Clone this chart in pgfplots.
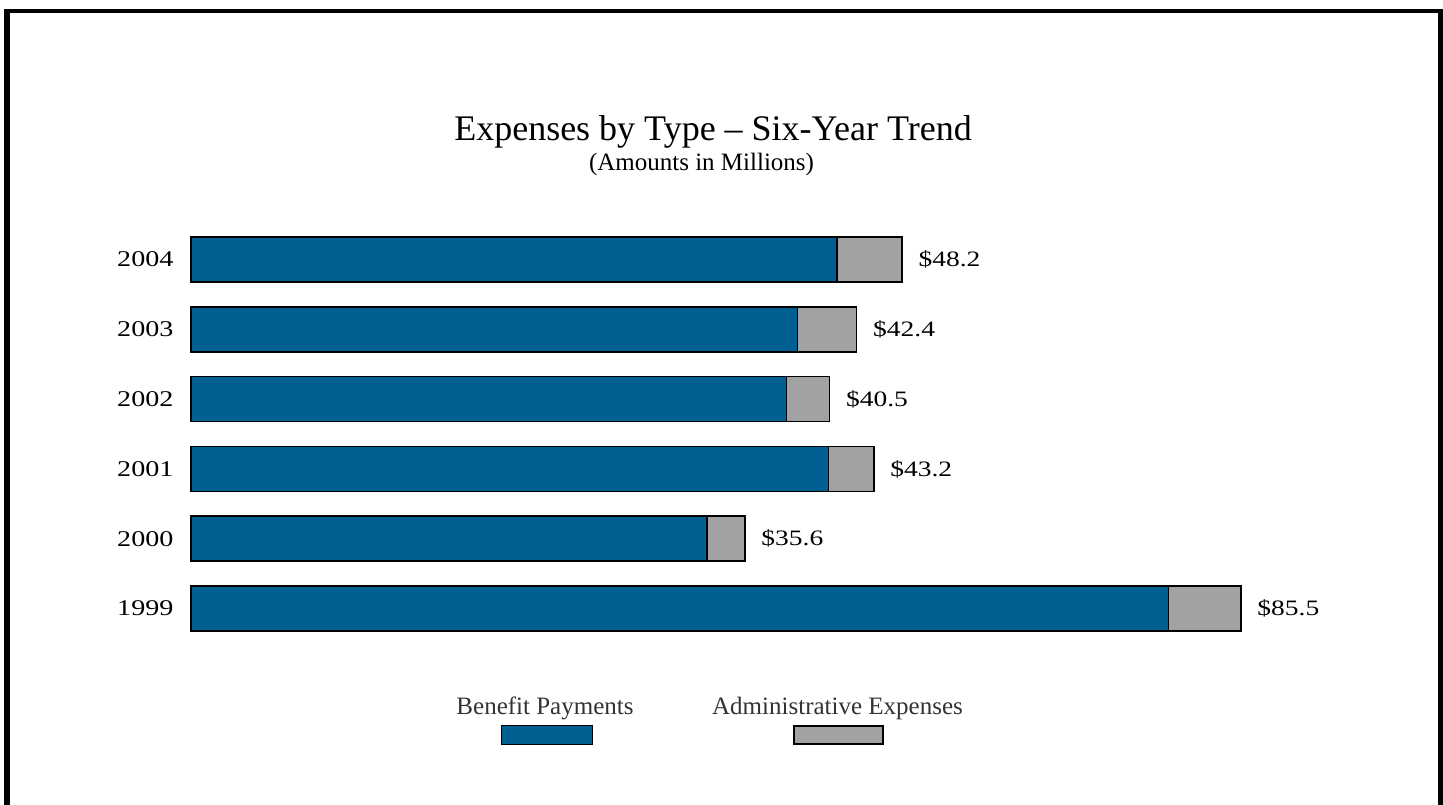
\documentclass[border=0pt]{standalone}
\usepackage{fontspec}
\setmainfont{Liberation Serif}
\newfontfamily\numfamily[FakeStretch=1.25]{Liberation Serif}
\usepackage{pgfplots}
\usepackage{pgfplotstable}
\pgfplotsset{compat=1.18}
\definecolor{benefit}{RGB}{0,96,146}
\definecolor{adminc}{RGB}{160,162,164}
\pgfplotstableread{
pos benefit admin label
0 79.6 5.9 85.5
1 42.0 3.1 35.6
2 51.9 3.7 43.2
3 48.5 3.5 40.5
4 49.4 4.8 42.4
5 52.6 5.3 48.2
}\expdata
\pgfplotsset{
  geom/.style={
    at={(191pt,161.6pt)}, anchor=south west,
    scale only axis, width=1228pt, height=418.8pt,
    xmin=0, xmax=100, ymin=-0.5, ymax=5.5, clip=false,
  }
}
\begin{document}
\begin{tikzpicture}
\useasboundingbox (0pt,0pt) rectangle (1443pt,805pt);
\fill[white] (0pt,0pt) rectangle (1443pt,805pt);
\fill[black] (4pt,0pt) rectangle (10pt,796pt);
\fill[black] (4pt,791.5pt) rectangle (1443pt,796pt);
\fill[black] (1438pt,0pt) rectangle (1443pt,796pt);
\begin{axis}[
  geom,
  xbar stacked, bar width=45pt,
  axis line style={draw=none}, hide x axis,
  ytick={0,1,2,3,4,5}, yticklabels={1999,2000,2001,2002,2003,2004},
  major tick length=0pt,
  yticklabel style={font=\numfamily\fontsize{22.5}{22.5}\selectfont, xshift=-14pt},
]
\addplot[fill=benefit, draw=black, line width=1.5pt] table[x=benefit, y=pos] {\expdata};
\addplot[fill=adminc, draw=black, line width=1.5pt] table[x=admin, y=pos] {\expdata};
\end{axis}
\begin{axis}[geom, hide axis]
\addplot[only marks, mark=none,
  point meta=explicit symbolic,
  nodes near coords={\$\pgfplotspointmeta},
  every node near coord/.style={font=\numfamily\fontsize{22}{22}\selectfont, anchor=west, xshift=13pt, text=black}]
  table[x expr=\thisrow{benefit}+\thisrow{admin}, y=pos, meta=label] {\expdata};
\end{axis}
\node[anchor=base, font=\fontsize{36}{36}\selectfont] at (713pt,664pt) {Expenses by Type -- Six-Year Trend};
\node[anchor=base, font=\fontsize{25}{25}\selectfont] at (701.5pt,634pt) {(Amounts in Millions)};
\node[anchor=base, font=\fontsize{25}{25}\selectfont, text=black!80] at (545pt,90pt) {Benefit Payments};
\node[anchor=base, font=\fontsize{25}{25}\selectfont, text=black!80] at (837.5pt,90pt) {Administrative Expenses};
\filldraw[fill=benefit, draw=black, line width=0.8pt] (501pt,61pt) rectangle (592pt,80pt);
\filldraw[fill=adminc, draw=black, line width=1.2pt] (794pt,61pt) rectangle (883pt,79pt);
\end{tikzpicture}
\end{document}
